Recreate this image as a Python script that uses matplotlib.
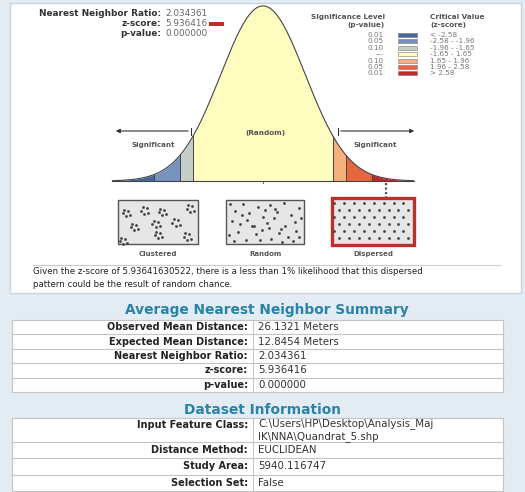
import numpy as np
import matplotlib.pyplot as plt
from matplotlib.patches import Rectangle

# z-score classes of the normal curve
cutoffs = [-3.55, -2.58, -1.96, -1.65, 1.65, 1.96, 2.58, 3.55]
bin_colors = ['#44689e', '#7693bd', '#c4cec6', '#fffcc0', '#f6b07c', '#e6673f', '#c0282a']
p_levels = ['0.01', '0.05', '0.10', '---', '0.10', '0.05', '0.01']
crit_vals = ['< -2.58', '-2.58 - -1.96', '-1.96 - -1.65', '-1.65 - 1.65',
             '1.65 - 1.96', '1.96 - 2.58', '> 2.58']

head_labels = ['Nearest Neighbor Ratio:', 'z-score:', 'p-value:']
head_values = ['2.034361', '5.936416', '0.000000']

summary_labels = ['Observed Mean Distance:', 'Expected Mean Distance:',
                  'Nearest Neighbor Ratio:', 'z-score:', 'p-value:']
summary_values = ['26.1321 Meters', '12.8454 Meters', '2.034361', '5.936416', '0.000000']

dataset_labels = ['Input Feature Class:', 'Distance Method:', 'Study Area:', 'Selection Set:']
dataset_values = ['C:\\Users\\HP\\Desktop\\Analysis_Maj\nIK\\NNA\\Quandrat_5.shp',
                  'EUCLIDEAN', '5940.116747', 'False']

message = ('Given the z-score of 5.93641630522, there is a less than 1% likelihood that this dispersed\n'
           'pattern could be the result of random chance.')

# dots in the little pattern pictures (box coords 0-1, y down)
clustered_centers = [(0.10, 0.30), (0.33, 0.25), (0.55, 0.28), (0.90, 0.20), (0.20, 0.62),
                     (0.47, 0.55), (0.72, 0.52), (0.50, 0.80), (0.86, 0.84), (0.06, 0.94)]
cluster_offsets = [(-0.04, 0.0), (0.03, -0.06), (0.0, 0.07), (0.05, 0.04), (-0.02, -0.08)]
random_x = [0.05, 0.12, 0.22, 0.30, 0.41, 0.48, 0.57, 0.66, 0.74, 0.83, 0.93, 0.08, 0.18, 0.27,
            0.36, 0.52, 0.61, 0.70, 0.88, 0.96, 0.04, 0.15, 0.25, 0.39, 0.46, 0.58, 0.68, 0.79,
            0.90, 0.10, 0.33, 0.44, 0.55, 0.63, 0.76, 0.86, 0.20, 0.50, 0.72, 0.94]
random_y = [0.10, 0.25, 0.08, 0.30, 0.15, 0.38, 0.12, 0.27, 0.06, 0.35, 0.18, 0.48, 0.55, 0.45,
            0.60, 0.52, 0.42, 0.65, 0.50, 0.40, 0.80, 0.72, 0.90, 0.78, 0.68, 0.88, 0.75, 0.85,
            0.70, 0.93, 0.58, 0.92, 0.63, 0.20, 0.58, 0.93, 0.35, 0.22, 0.96, 0.85]
disp_cols = [0.06, 0.18, 0.30, 0.42, 0.54, 0.66, 0.78, 0.90]
disp_rows = [0.10, 0.25, 0.40, 0.55, 0.70, 0.86]
disp_shift = [0.0, 0.06, 0.0, 0.06, 0.0, 0.06]

bg = '#e3ecf2'
dark = '#333333'
grey = '#555555'
head_blue = '#2a82a8'

fig = plt.figure(figsize=(5.25, 4.92), dpi=100)
fig.patch.set_facecolor(bg)
ax = fig.add_axes([0, 0, 1, 1])
ax.set_xlim(0, 525)
ax.set_ylim(492, 0)
ax.axis('off')

# top white panel
ax.add_patch(Rectangle((10, 3), 511, 290, facecolor='white', edgecolor='#c9d5de', lw=1))

# header numbers
for i in range(3):
    yy = 14 + i * 9.5
    ax.text(161, yy, head_labels[i], ha='right', va='center', fontsize=6.4,
            fontweight='bold', color=dark)
    ax.text(165, yy, head_values[i], ha='left', va='center', fontsize=6.4, color='#666666')
ax.add_patch(Rectangle((209, 21.5), 15, 4.5, facecolor='#c0282a', edgecolor='none'))

# normal curve
def px(z):
    return 263 + 42.4 * np.asarray(z)

def py(d):
    return 181 - 439 * np.asarray(d)

def pdf(z):
    return np.exp(-0.5 * np.asarray(z) ** 2) / np.sqrt(2 * np.pi)

for i in range(len(bin_colors)):
    zz = np.linspace(cutoffs[i], cutoffs[i + 1], 100)
    ax.fill_between(px(zz), py(pdf(zz)), 181, color=bin_colors[i], lw=0)
for c in cutoffs[1:-1]:
    ax.plot([px(c), px(c)], [181, py(pdf(c))], color='#444444', lw=0.7)
zz = np.linspace(cutoffs[0], cutoffs[-1], 400)
ax.plot(px(zz), py(pdf(zz)), color='#444444', lw=0.8)
ax.plot([px(cutoffs[0]), px(cutoffs[-1])], [181, 181], color='#444444', lw=0.8)
ax.plot([263, 263], [181, 183], color='#444444', lw=0.6)

# significance arrows
ax.annotate('', xy=(113, 131), xytext=(191, 131),
            arrowprops=dict(arrowstyle='-|>', color=dark, lw=0.8, mutation_scale=6))
ax.plot([191, 191], [127.5, 134.5], color=dark, lw=0.8)
ax.annotate('', xy=(417, 131), xytext=(338, 131),
            arrowprops=dict(arrowstyle='-|>', color=dark, lw=0.8, mutation_scale=6))
ax.plot([338, 338], [127.5, 134.5], color=dark, lw=0.8)
ax.text(153, 145, 'Significant', ha='center', va='center', fontsize=5.1,
        fontweight='bold', color=grey)
ax.text(375, 145, 'Significant', ha='center', va='center', fontsize=5.1,
        fontweight='bold', color=grey)
ax.text(265, 133, '(Random)', ha='center', va='center', fontsize=5.2,
        fontweight='bold', color=grey)

# legend
ax.text(385, 17, 'Significance Level', ha='right', va='center', fontsize=5.2,
        fontweight='bold', color=grey)
ax.text(385, 25, '(p-value)', ha='right', va='center', fontsize=5.2,
        fontweight='bold', color=grey)
ax.text(430, 17, 'Critical Value', ha='left', va='center', fontsize=5.2,
        fontweight='bold', color=grey)
ax.text(430, 25, '(z-score)', ha='left', va='center', fontsize=5.2,
        fontweight='bold', color=grey)
for i in range(len(p_levels)):
    yy = 35 + i * 6.4
    ax.text(384, yy, p_levels[i], ha='right', va='center', fontsize=5.2, color='#777777')
    ax.add_patch(Rectangle((398, yy - 2), 19, 4, facecolor=bin_colors[i],
                           edgecolor='#777777', lw=0.4))
    ax.text(430, yy, crit_vals[i], ha='left', va='center', fontsize=5.2, color='#777777')

# dotted link to the dispersed picture
ax.plot([386, 386], [183, 197], color=grey, lw=1.6, ls=(0, (1, 1)))

# pattern pictures
boxes = [(118, 200, 80, 44), (226, 200, 78, 44), (332, 198, 82, 47)]
names = ['Clustered', 'Random', 'Dispersed']
for k, (bx, by, bw, bh) in enumerate(boxes):
    if k == 2:
        ax.add_patch(Rectangle((bx, by), bw, bh, facecolor='#e6e6e6', edgecolor='#b8322a', lw=2.4))
    else:
        ax.add_patch(Rectangle((bx, by), bw, bh, facecolor='#e6e6e6', edgecolor='#555555', lw=1))
    ax.text(bx + bw / 2, 254, names[k], ha='center', va='center', fontsize=5.0,
            fontweight='bold', color=grey)

bx, by, bw, bh = boxes[0]
for cx, cy in clustered_centers:
    for ox, oy in cluster_offsets:
        ax.plot(bx + (cx + ox) * bw, by + (cy + oy) * bh, 's', ms=0.9, color='#444444')
bx, by, bw, bh = boxes[1]
ax.plot(bx + np.array(random_x) * bw, by + np.array(random_y) * bh, 's', ms=0.9,
        color='#444444', ls='none')
bx, by, bw, bh = boxes[2]
for r, s in zip(disp_rows, disp_shift):
    ax.plot(bx + (np.array(disp_cols) + s - 0.03) * bw, [by + r * bh] * len(disp_cols),
            's', ms=0.9, color='#444444', ls='none')

# message
ax.plot([33, 500], [265, 265], color='#cccccc', lw=0.8)
ax.text(33, 278, message, ha='left', va='center', fontsize=6.2, color='#222222',
        linespacing=1.45)

# summary table
ax.text(267, 310, 'Average Nearest Neighbor Summary', ha='center', va='center',
        fontsize=9.9, fontweight='bold', color=head_blue)
top = 320
rh = 14.4
ax.add_patch(Rectangle((12, top), 491, rh * len(summary_labels), facecolor='white',
                       edgecolor='#c4c4c4', lw=0.8))
for i in range(len(summary_labels)):
    yy = top + i * rh
    if i > 0:
        ax.plot([12, 503], [yy, yy], color='#c4c4c4', lw=0.8)
    ax.text(248, yy + rh / 2, summary_labels[i], ha='right', va='center', fontsize=7.0,
            fontweight='bold', color='#222222')
    ax.text(258, yy + rh / 2, summary_values[i], ha='left', va='center', fontsize=7.4,
            color='#333333')
ax.plot([253, 253], [top, top + rh * len(summary_labels)], color='#c4c4c4', lw=0.8)

# dataset table
ax.text(263, 410, 'Dataset Information', ha='center', va='center',
        fontsize=9.9, fontweight='bold', color=head_blue)
top = 418
heights = [24, 16.3, 16.3, 16.3]
ax.add_patch(Rectangle((12, top), 491, sum(heights), facecolor='white',
                       edgecolor='#c4c4c4', lw=0.8))
yy = top
for i in range(len(dataset_labels)):
    if i > 0:
        ax.plot([12, 503], [yy, yy], color='#c4c4c4', lw=0.8)
    ty = yy + 7 if i == 0 else yy + heights[i] / 2
    ax.text(248, ty, dataset_labels[i], ha='right', va='center', fontsize=7.0,
            fontweight='bold', color='#222222')
    ax.text(258, yy + heights[i] / 2, dataset_values[i], ha='left', va='center',
            fontsize=7.4, color='#333333', linespacing=1.25)
    yy += heights[i]
ax.plot([253, 253], [top, top + sum(heights)], color='#c4c4c4', lw=0.8)

fig.savefig('out.png', dpi=100, facecolor=fig.get_facecolor())
